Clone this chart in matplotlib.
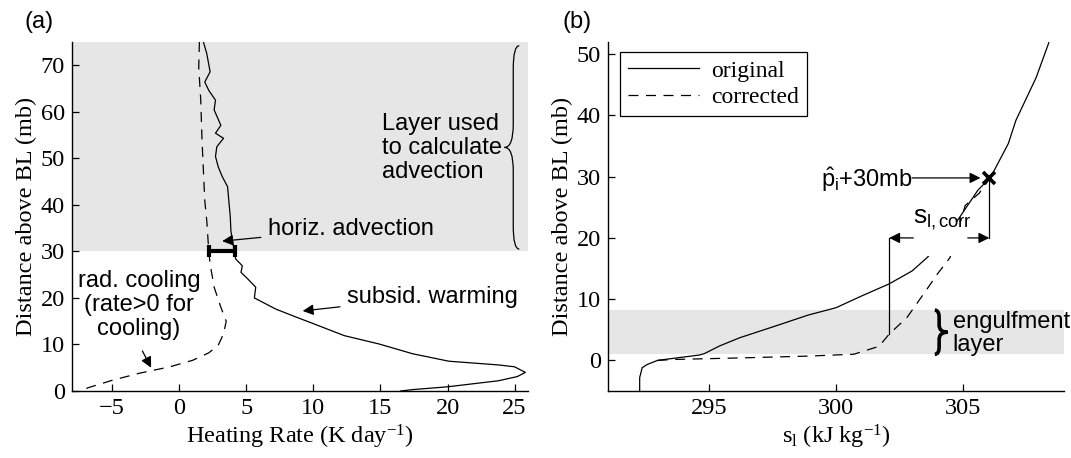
import numpy as np
import matplotlib
matplotlib.use("Agg")
import matplotlib.pyplot as plt
from matplotlib.path import Path
from matplotlib.patches import PathPatch, Rectangle

plt.rcParams["font.family"] = ["Liberation Serif", "DejaVu Serif"]
plt.rcParams["mathtext.fontset"] = "custom"
plt.rcParams["mathtext.rm"] = "Liberation Serif"
plt.rcParams["mathtext.it"] = "Liberation Serif:italic"
plt.rcParams["mathtext.sf"] = "Liberation Sans"
SANS = "Liberation Sans"
FS = 17.5      # serif ticks / axis labels
FSS = 17       # sans annotations

# ---- panel (a): heating rates vs height above BL ----
subs_rate = [1.8, 2.05, 2.3, 1.9, 2.2, 2.7, 2.6, 3.1, 2.7, 3.3, 2.8, 2.7, 2.9, 3.2, 3.6,
             3.8, 3.85, 4.1, 4.2, 4.7, 4.6, 5.1, 5.7, 5.6, 6.2, 7.2, 8.7, 9.7, 12.3,
             14.9, 17.4, 20.1, 23.8, 25.0, 25.8, 25.2, 23.8, 20.0, 17.4, 16.5]
subs_z = [75, 72.5, 68.6, 66.4, 64.6, 62.5, 60.4, 57.1, 55.4, 54.3, 52.5, 50.4, 48.2, 46.1, 43.9,
          37.5, 34.4, 30, 28.4, 26.9, 25.5, 24.1, 22.3, 20, 19.1, 17.6, 15.9, 14.8, 11.9,
          10.1, 8.0, 6.4, 5.6, 5.2, 4.0, 3.1, 2.2, 0.9, 0.3, 0]
rad_rate = [1.5, 1.45, 1.6, 1.7, 1.9, 2.05, 2.2, 2.3, 2.6, 3.1, 3.5, 3.3, 2.9, 2.2, 1.0,
            -0.7, -3.0, -5.0, -6.8, -7.3]
rad_z = [75, 69.6, 62.5, 53.6, 41, 36.6, 30, 27.3, 22.3, 18, 15, 12.3, 9.8, 8.2, 6.6,
         5.2, 3.8, 2.3, 0.7, 0]
adv_center, adv_halfwidth, adv_level = 3.18, 0.97, 30
adv_layer = (30, 75)

# ---- panel (b): s_l profiles ----
orig_sl = [292.25, 292.25, 292.35, 292.55, 292.96, 293.78, 294.6, 294.8, 295.4, 296.2, 297.6,
           298.9, 300.0, 301.0, 302.1, 303.0, 303.6, 304.3, 304.9, 305.6, 306.1, 306.8,
           307.1, 307.9, 308.4]
orig_z = [-5, -2.8, -1.2, -0.66, 0, 0.44, 0.87, 1.1, 2.35, 3.7, 5.6,
          7.4, 8.6, 10.5, 12.5, 14.6, 16.8, 20, 23.5, 27.8, 29.9, 35.4,
          39.2, 46.2, 51.9]
corr_sl = [292.96, 293.6, 296.2, 298.9, 300.7, 301.7, 302.1, 302.8, 303.5, 304.0, 304.5,
           305.1, 305.65, 306.1]
corr_z = [0, 0.15, 0.4, 0.7, 1.0, 2.3, 4.3, 7.0, 11.1, 14.1, 16.8,
          25.3, 27.3, 29.9]
engulf_layer = (1, 8.2)
p_top = (306.05, 29.8)
sl_corr_left = 302.1
sl_corr_level = 20

fig = plt.figure(figsize=(10.71, 4.58), dpi=100)
axa = fig.add_axes([0.0672, 0.1463, 0.4258, 0.762])
axb = fig.add_axes([0.5677, 0.1463, 0.4258, 0.762])


def style(ax):
    for s in ("top", "right"):
        ax.spines[s].set_visible(False)
    for s in ("left", "bottom"):
        ax.spines[s].set_linewidth(1.0)
    ax.tick_params(direction="in", length=5, width=0.9, labelsize=FS, pad=5)


def vbrace(ax, x_end, x_mid, x_tip, y0, y1, d, **kw):
    ym = 0.5 * (y0 + y1)
    verts = [(x_end, y1), (x_mid, y1), (x_mid, y1 - d), (x_mid, ym + d), (x_mid, ym), (x_tip, ym),
             (x_mid, ym), (x_mid, ym - d), (x_mid, y0 + d), (x_mid, y0), (x_end, y0)]
    codes = [Path.MOVETO, Path.CURVE3, Path.CURVE3, Path.LINETO, Path.CURVE3, Path.CURVE3,
             Path.CURVE3, Path.CURVE3, Path.LINETO, Path.CURVE3, Path.CURVE3]
    ax.add_patch(PathPatch(Path(verts, codes), fill=False, **kw))


arrow = dict(arrowstyle="-|>", mutation_scale=16, lw=0.9, color="k", shrinkA=0, shrinkB=0)
DASH = (8, 6)

# ---------- (a) ----------
style(axa)
axa.axhspan(*adv_layer, color="0.9", lw=0, zorder=0)
axa.plot(subs_rate, subs_z, color="k", lw=0.9)
axa.plot(rad_rate, rad_z, color="k", lw=0.9, dashes=DASH)
axa.errorbar(adv_center, adv_level, xerr=adv_halfwidth, fmt="none", ecolor="k",
             elinewidth=3, capsize=4.3, capthick=3, zorder=5)
axa.set_xlim(-8, 26)
axa.set_ylim(0, 75)
axa.set_xticks([-5, 0, 5, 10, 15, 20, 25])
axa.set_yticks([0, 10, 20, 30, 40, 50, 60, 70])
axa.set_xlabel("Heating Rate (K day$^{-1}$)", fontsize=FS, labelpad=3)
axa.set_ylabel("Distance above BL (mb)", fontsize=FS, labelpad=3)

vbrace(axa, 25.35, 24.9, 24.25, 30.5, 74.2, 5, lw=0.9, ec="k")
axa.text(15.1, 52.3, "Layer used\nto calculate\nadvection", family=SANS, fontsize=FSS,
         va="center", ha="left", linespacing=1.12)
axa.annotate("horiz. advection", xy=(3.2, 32.2), xytext=(6.6, 34.9), family=SANS,
             fontsize=FSS, va="center", ha="left",
             arrowprops=dict(arrow, shrinkA=3))
axa.annotate("subsid. warming", xy=(9.2, 17.2), xytext=(12.5, 20.3), family=SANS,
             fontsize=FSS, va="center", ha="left",
             arrowprops=dict(arrow, shrinkA=3))
axa.text(-3.0, 18.4, "rad. cooling\n(rate>0 for\ncooling)", family=SANS, fontsize=FSS,
         va="center", ha="center", multialignment="center", linespacing=1.12)
axa.annotate("", xy=(-2.1, 5.0), xytext=(-2.75, 8.6), arrowprops=arrow)

# ---------- (b) ----------
style(axb)
axb.axhspan(*engulf_layer, color="0.9", lw=0, zorder=0)
l1, = axb.plot(orig_sl, orig_z, color="k", lw=0.9, label="original")
l2, = axb.plot(corr_sl, corr_z, color="k", lw=0.9, dashes=DASH, label="corrected")
axb.set_xlim(291, 309)
axb.set_ylim(-5, 52)
axb.set_xticks([295, 300, 305])
axb.set_yticks([0, 10, 20, 30, 40, 50])
axb.set_xlabel("s$_\\mathrm{l}$ (kJ kg$^{-1}$)", fontsize=FS, labelpad=3)
axb.set_ylabel("Distance above BL (mb)", fontsize=FS, labelpad=3)

leg = axb.legend(handles=[l1, l2], loc="upper left", bbox_to_anchor=(0.026, 0.972),
                 borderaxespad=0, fontsize=FS - 0.5, fancybox=False, framealpha=1,
                 edgecolor="k", handlelength=3.0, handletextpad=0.5,
                 borderpad=0.35, labelspacing=0.2)
leg.get_frame().set_linewidth(0.9)

axb.plot(*p_top, marker="x", color="k", ms=8, mew=2.6, zorder=6)
axb.annotate("", xy=(p_top[0] - 0.35, p_top[1]), xytext=(303.0, p_top[1]), arrowprops=arrow)
axb.text(299.4, 28.3, r"$\mathsf{\hat{p}_i}$+30mb", family=SANS, fontsize=FSS,
         va="baseline", ha="left")

# s_l,corr double arrow with white gap behind the label
axb.plot([sl_corr_left, sl_corr_left], [4.3, sl_corr_level], color="k", lw=0.9)
axb.plot([p_top[0], p_top[0]], [sl_corr_level, p_top[1]], color="k", lw=0.9)
axb.add_patch(Rectangle((303.05, 17.0), 2.15, 5.6, fc="w", ec="none", zorder=4))
axb.annotate("", xy=(sl_corr_left, sl_corr_level), xytext=(303.05, sl_corr_level),
             arrowprops=arrow, zorder=5)
axb.annotate("", xy=(p_top[0], sl_corr_level), xytext=(305.2, sl_corr_level),
             arrowprops=arrow, zorder=5)
axb.text(303.05, 22.4, r"$\mathsf{s_{l,corr}}$", family=SANS, fontsize=FSS + 2,
         va="baseline", ha="left", zorder=6)

vbrace(axb, 303.9, 304.07, 304.4, engulf_layer[0], engulf_layer[1], 1.2, lw=2.6, ec="k")
axb.text(304.6, 4.4, "engulfment\nlayer", family=SANS, fontsize=FSS, va="center",
         ha="left", linespacing=1.05)

fig.text(24 / 1071, 1 - 22 / 458, "(a)", family=SANS, fontsize=FSS, va="center")
fig.text(562 / 1071, 1 - 22 / 458, "(b)", family=SANS, fontsize=FSS, va="center")

fig.savefig("out.png", dpi=100)
